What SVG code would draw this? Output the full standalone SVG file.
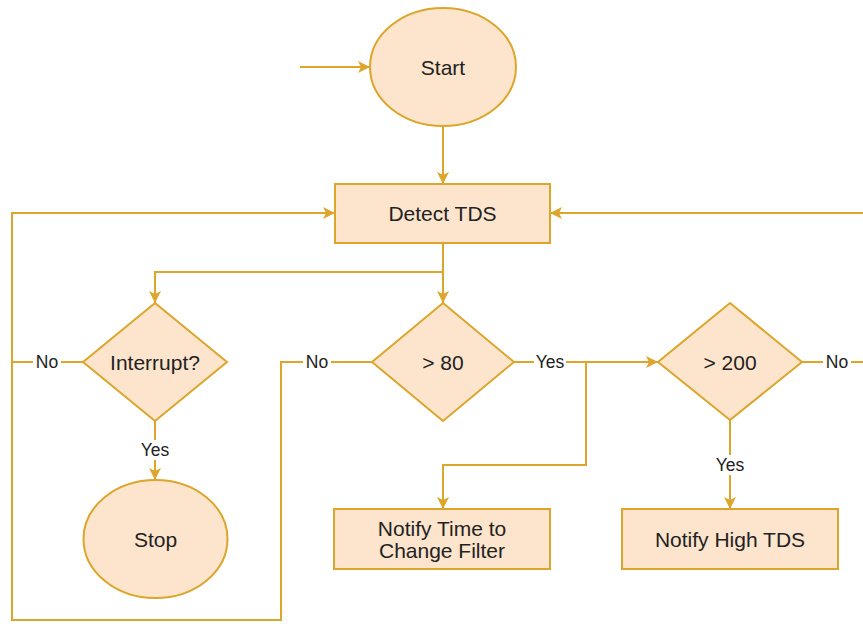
<svg xmlns="http://www.w3.org/2000/svg" width="863" height="628" viewBox="0 0 863 628">
  <defs>
    <marker id="arrow" viewBox="0 0 12 12" refX="12" refY="6" markerWidth="12" markerHeight="12" markerUnits="userSpaceOnUse" orient="auto">
      <path d="M0,0 L12,6 L0,12 L3,6 z" fill="#dca52b"/>
    </marker>
    <style>
      .shape { fill: #fde5cd; stroke: #dca52b; stroke-width: 2; }
      .edge { fill: none; stroke: #dca52b; stroke-width: 2; }
      .label { font-family: "Liberation Sans", Arial, sans-serif; font-size: 21px; fill: #222222; text-anchor: middle; dominant-baseline: central; }
      .elabel { font-family: "Liberation Sans", Arial, sans-serif; font-size: 17.5px; fill: #222222; text-anchor: middle; dominant-baseline: central; }
      .lbg { fill: #ffffff; }
    </style>
  </defs>
  <rect width="863" height="628" fill="#ffffff"/>

  <g id="connectors">
    <path class="edge" d="M300,67 H370" marker-end="url(#arrow)"/>
    <path class="edge" d="M443,126 V184" marker-end="url(#arrow)"/>
    <path class="edge" d="M443,243 V272 H155 V303" marker-end="url(#arrow)"/>
    <path class="edge" d="M443,272 V303" marker-end="url(#arrow)"/>
    <path class="edge" d="M155,421 V480" marker-end="url(#arrow)"/>
    <path class="edge" d="M83,362 H12"/>
    <path class="edge" d="M372,362 H281 V620 H12 V213 H335" marker-end="url(#arrow)"/>
    <path class="edge" d="M513,362 H658" marker-end="url(#arrow)"/>
    <path class="edge" d="M586,362 V465 H443 V509" marker-end="url(#arrow)"/>
    <path class="edge" d="M730,420 V509" marker-end="url(#arrow)"/>
    <path class="edge" d="M802,362 H863"/>
    <path class="edge" d="M863,213 H550" marker-end="url(#arrow)"/>

    <g id="edge-labels">
      <rect class="lbg" x="33" y="352" width="28" height="20"/>
      <text class="elabel" x="47" y="362">No</text>
      <rect class="lbg" x="139" y="440" width="32" height="20"/>
      <text class="elabel" x="155" y="450">Yes</text>
      <rect class="lbg" x="303" y="352" width="28" height="20"/>
      <text class="elabel" x="317" y="362">No</text>
      <rect class="lbg" x="534" y="352" width="32" height="20"/>
      <text class="elabel" x="550" y="362">Yes</text>
      <rect class="lbg" x="714" y="455" width="32" height="20"/>
      <text class="elabel" x="730" y="465">Yes</text>
      <rect class="lbg" x="823" y="352" width="28" height="20"/>
      <text class="elabel" x="837" y="362">No</text>
    </g>
  </g>

  <g id="start">
    <ellipse class="shape" cx="443" cy="67" rx="73" ry="59"/>
    <text class="label" x="443" y="67">Start</text>
  </g>
  <g id="detect-tds">
    <rect class="shape" x="335" y="184" width="215" height="59"/>
    <text class="label" x="442.5" y="213.5">Detect TDS</text>
  </g>
  <g id="interrupt">
    <polygon class="shape" points="155,303 227,362 155,421 83,362"/>
    <text class="label" x="155" y="362">Interrupt?</text>
  </g>
  <g id="stop">
    <ellipse class="shape" cx="155.5" cy="539" rx="72" ry="59"/>
    <text class="label" x="155.5" y="539">Stop</text>
  </g>
  <g id="gt-80">
    <polygon class="shape" points="443,303 514,362 443,421 372,362"/>
    <text class="label" x="443" y="362">&gt; 80</text>
  </g>
  <g id="gt-200">
    <polygon class="shape" points="730,303 802,362 730,420 658,362"/>
    <text class="label" x="730" y="362">&gt; 200</text>
  </g>
  <g id="notify-change-filter">
    <rect class="shape" x="334" y="509" width="216" height="60"/>
    <text class="label" x="442" y="528">Notify Time to</text>
    <text class="label" x="442" y="550">Change Filter</text>
  </g>
  <g id="notify-high-tds">
    <rect class="shape" x="622" y="509" width="216" height="60"/>
    <text class="label" x="730" y="539">Notify High TDS</text>
  </g>
</svg>
